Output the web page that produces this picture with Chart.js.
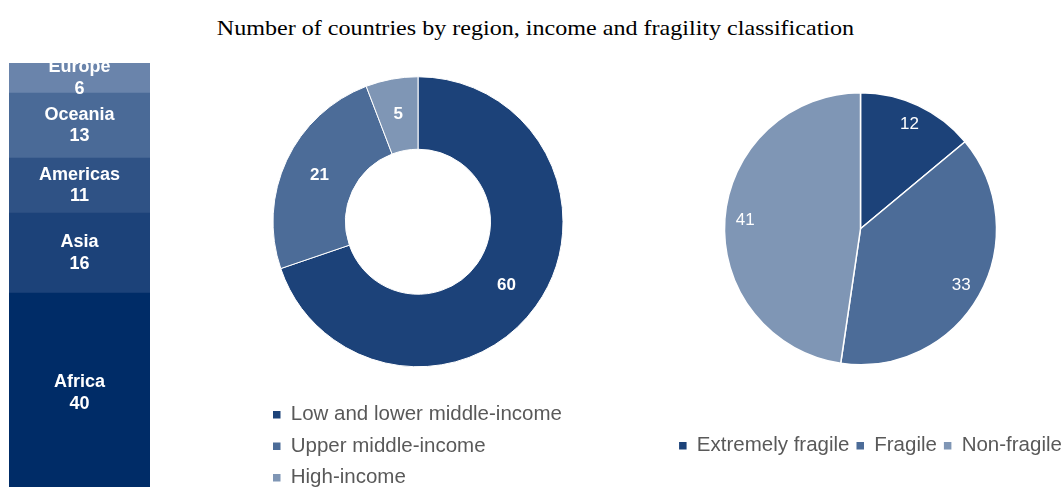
<!DOCTYPE html>
<html>
<head>
<meta charset="utf-8">
<script src="https://cdn.jsdelivr.net/npm/chart.js@4.4.1/dist/chart.umd.min.js"></script>
<style>
  html, body { margin: 0; padding: 0; width: 1063px; height: 487px; overflow: hidden; background: #fff; }
  .box { position: absolute; }
  #title {
    position: absolute; left: 4px; top: 18px; width: 1063px;
    text-align: center; font: 21.5px/21.5px "Liberation Serif", "Times New Roman", serif; color: #000;
    transform: scaleX(1.12); transform-origin: center;
  }
</style>
</head>
<body>
<div id="title">Number of countries by region, income and fragility classification</div>
<div class="box" style="left:9px; top:63px; width:141px; height:430px;"><canvas id="regionBar"></canvas></div>
<div class="box" style="left:262px; top:50px; width:312px; height:448px;"><canvas id="incomeDonut"></canvas></div>
<div class="box" style="left:650px; top:29px; width:421px; height:437px;"><canvas id="fragilityPie"></canvas></div>
<script>
// Data
const regions = ['Africa', 'Asia', 'Americas', 'Oceania', 'Europe'];
const regionCounts = [40, 16, 11, 13, 6];
const regionColors = ['#002c67', '#1c4279', '#2f5285', '#4a6a97', '#6a84ab'];

const incomeGroups = ['Low and lower middle-income', 'Upper middle-income', 'High-income'];
const incomeCounts = [60, 21, 5];

const fragilityGroups = ['Extremely fragile', 'Fragile', 'Non-fragile'];
const fragilityCounts = [12, 33, 41];

const shades = ['#1c4279', '#4c6c98', '#7f96b5'];

Chart.defaults.font.family = "'Liberation Sans', Arial, sans-serif";
Chart.defaults.animation = false;

const LEGEND_FONT = { size: 20.5 };
const LEGEND_COLOR = '#595959';

// default doughnut legend items, but without the white outline round the swatch
const flatSwatches = (chart) =>
  Chart.overrides.doughnut.plugins.legend.labels.generateLabels(chart)
    .map((item) => ({ ...item, lineWidth: 0 }));

/**
 * Inline plugin that writes labels on top of bars / arcs.
 * radial: where to put the label between inner and outer radius (arcs only).
 */
function makeLabels({ font, lineHeight = 21, radial = 0.5, lines }) {
  return {
    id: 'markLabels',
    afterDatasetsDraw(chart) {
      const ctx = chart.ctx;
      ctx.save();
      ctx.fillStyle = '#fff';
      ctx.font = font;
      ctx.textAlign = 'center';
      ctx.textBaseline = 'middle';
      chart.data.datasets.forEach((ds, di) => {
        chart.getDatasetMeta(di).data.forEach((el, i) => {
          let x, y;
          if (chart.config.type === 'bar') {
            const p = el.getProps(['x', 'y', 'base'], true);
            x = p.x;
            y = (p.y + p.base) / 2;
          } else {
            const p = el.getProps(['x', 'y', 'startAngle', 'endAngle', 'innerRadius', 'outerRadius'], true);
            const a = (p.startAngle + p.endAngle) / 2;
            const r = p.innerRadius + (p.outerRadius - p.innerRadius) * radial;
            x = p.x + Math.cos(a) * r;
            y = p.y + Math.sin(a) * r;
          }
          const txt = lines(ds, di, i);
          txt.forEach((t, k) => ctx.fillText(t, x, y + (k - (txt.length - 1) / 2) * lineHeight));
        });
      });
      ctx.restore();
    },
  };
}

// the pie legend sits a little right of the pie's centre in the original
const legendNudge = (dx) => ({
  id: 'legendNudge',
  afterLayout(chart) {
    chart.legend.left += dx;
    chart.legend.right += dx;
  },
});

// Left: stacked single bar of regions
new Chart(document.getElementById('regionBar'), {
  type: 'bar',
  data: {
    labels: [''],
    datasets: regions.map((name, k) => ({
      label: name,
      data: [regionCounts[k]],
      backgroundColor: regionColors[k],
      borderWidth: 0,
      barPercentage: 1,
      categoryPercentage: 1,
    })),
  },
  options: {
    responsive: true,
    maintainAspectRatio: false,
    layout: { padding: 0 },
    plugins: { legend: { display: false }, tooltip: { enabled: false } },
    scales: {
      x: { stacked: true, display: false },
      y: { stacked: true, display: false, min: 0, max: 86 },
    },
  },
  plugins: [makeLabels({
    font: "bold 18px 'Liberation Sans', Arial, sans-serif",
    lineHeight: 21.5,
    lines: (ds) => [ds.label, String(ds.data[0])],
  })],
});

// Middle: income doughnut
new Chart(document.getElementById('incomeDonut'), {
  type: 'doughnut',
  data: {
    labels: incomeGroups,
    datasets: [{
      data: incomeCounts,
      backgroundColor: shades,
      borderColor: '#fff',
      borderWidth: 1,
      radius: 145,
      cutout: '50%',
    }],
  },
  options: {
    responsive: true,
    maintainAspectRatio: false,
    layout: { padding: 0 },
    plugins: {
      tooltip: { enabled: false },
      legend: {
        position: 'bottom',
        align: 'start',
        labels: {
          boxWidth: 7.5, boxHeight: 7.5, padding: 11,
          color: LEGEND_COLOR, font: LEGEND_FONT,
          generateLabels: flatSwatches,
        },
      },
    },
  },
  plugins: [makeLabels({
    font: "bold 17px 'Liberation Sans', Arial, sans-serif",
    radial: 0.5,
    lines: (ds, di, i) => [String(ds.data[i])],
  })],
});

// Right: fragility pie
new Chart(document.getElementById('fragilityPie'), {
  type: 'pie',
  data: {
    labels: fragilityGroups,
    datasets: [{
      data: fragilityCounts,
      backgroundColor: shades,
      borderColor: '#fff',
      borderWidth: 1.5,
      radius: 136,
    }],
  },
  options: {
    responsive: true,
    maintainAspectRatio: false,
    layout: { padding: 0 },
    plugins: {
      tooltip: { enabled: false },
      legend: {
        position: 'bottom',
        align: 'center',
        labels: {
          boxWidth: 7.5, boxHeight: 7.5, padding: 7,
          color: LEGEND_COLOR, font: LEGEND_FONT,
          generateLabels: flatSwatches,
        },
      },
    },
  },
  plugins: [
    makeLabels({
      font: "17px 'Liberation Sans', Arial, sans-serif",
      radial: 0.85,
      lines: (ds, di, i) => [String(ds.data[i])],
    }),
    legendNudge(10),
  ],
});
</script>
</body>
</html>
